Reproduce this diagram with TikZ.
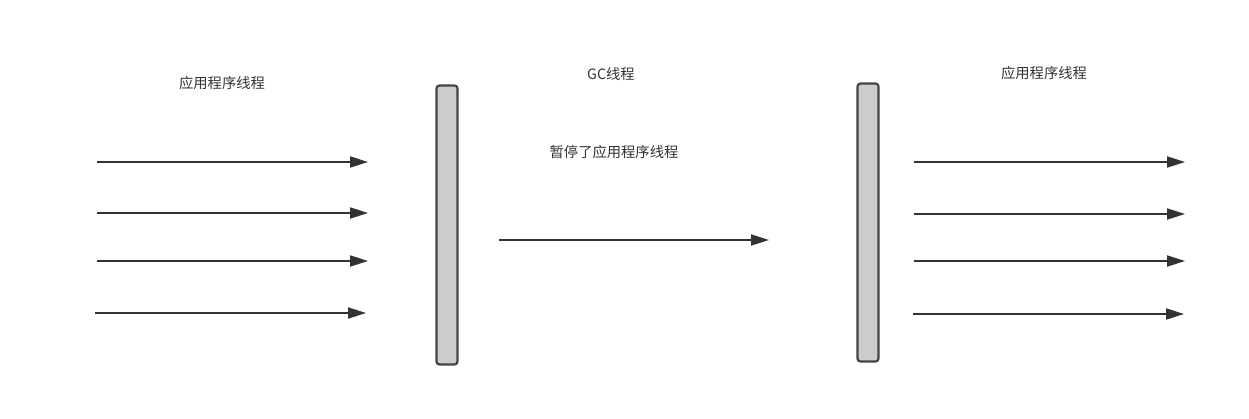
\documentclass[tikz,border=0pt]{standalone}
\usepackage{fontspec}
\newfontfamily\cjk{Noto Sans CJK SC}
\usetikzlibrary{arrows.meta}
\usetikzlibrary{positioning}

\definecolor{lineGray}{HTML}{333333}
\definecolor{barFill}{HTML}{CCCCCC}
\definecolor{barEdge}{HTML}{444444}

\tikzset{
  thread/.style={draw=lineGray, line width=2pt, -{Triangle[length=18pt,width=11pt]}},
  pausebar/.style={draw=barEdge, fill=barFill, line width=2.2pt, rounded corners=3pt,
    minimum width=21pt, inner sep=0pt},
  caption/.style={inner sep=0.75pt, text=lineGray, font=\cjk\fontsize{14.3}{16}\selectfont}
}

\begin{document}
\begin{tikzpicture}[x=1pt,y=1pt,yscale=-1,xscale=1]
            \useasboundingbox (0,0) rectangle (1249,419);

            %Shapes: pause bars
            \node [pausebar, minimum height=279pt] (barL) at (447,225) {};
            \node [pausebar, minimum height=278pt] (barR) at (868,222.5) {};

            % Text Node
            \node [caption] (appL) at (222,83) {应用程序线程};
            % Text Node
            \node [caption] (gc) at (611,74) {GC线程};
            % Text Node
            \node [caption] (pause) at (614,152) {暂停了应用程序线程};
            % Text Node
            \node [caption] (appR) at (1044,73) {应用程序线程};

            %Arrow ends
            \coordinate (l1s) at (97,162);  \coordinate (l1e) at (368,162);
            \coordinate (l2s) at (97,213);  \coordinate (l2e) at (368,213);
            \coordinate (l3s) at (97,261);  \coordinate (l3e) at (368,261);
            \coordinate (l4s) at (95,313);  \coordinate (l4e) at (366,313);
            \coordinate (gcs) at (499,240); \coordinate (gce) at (769,240);
            \coordinate (r1s) at (914,162); \coordinate (r1e) at (1185,162);
            \coordinate (r2s) at (914,214); \coordinate (r2e) at (1185,214);
            \coordinate (r3s) at (914,261); \coordinate (r3e) at (1185,261);
            \coordinate (r4s) at (913,314); \coordinate (r4e) at (1184,314);

            %Straight Lines: threads before the pause
            \draw [thread] (l1s) -- (l1e);
            \draw [thread] (l2s) -- (l2e);
            \draw [thread] (l3s) -- (l3e);
            \draw [thread] (l4s) -- (l4e);
            %Straight Lines: GC thread
            \draw [thread] (gcs) -- (gce);
            %Straight Lines: threads after the pause
            \draw [thread] (r1s) -- (r1e);
            \draw [thread] (r2s) -- (r2e);
            \draw [thread] (r3s) -- (r3e);
            \draw [thread] (r4s) -- (r4e);

\end{tikzpicture}
\end{document}
